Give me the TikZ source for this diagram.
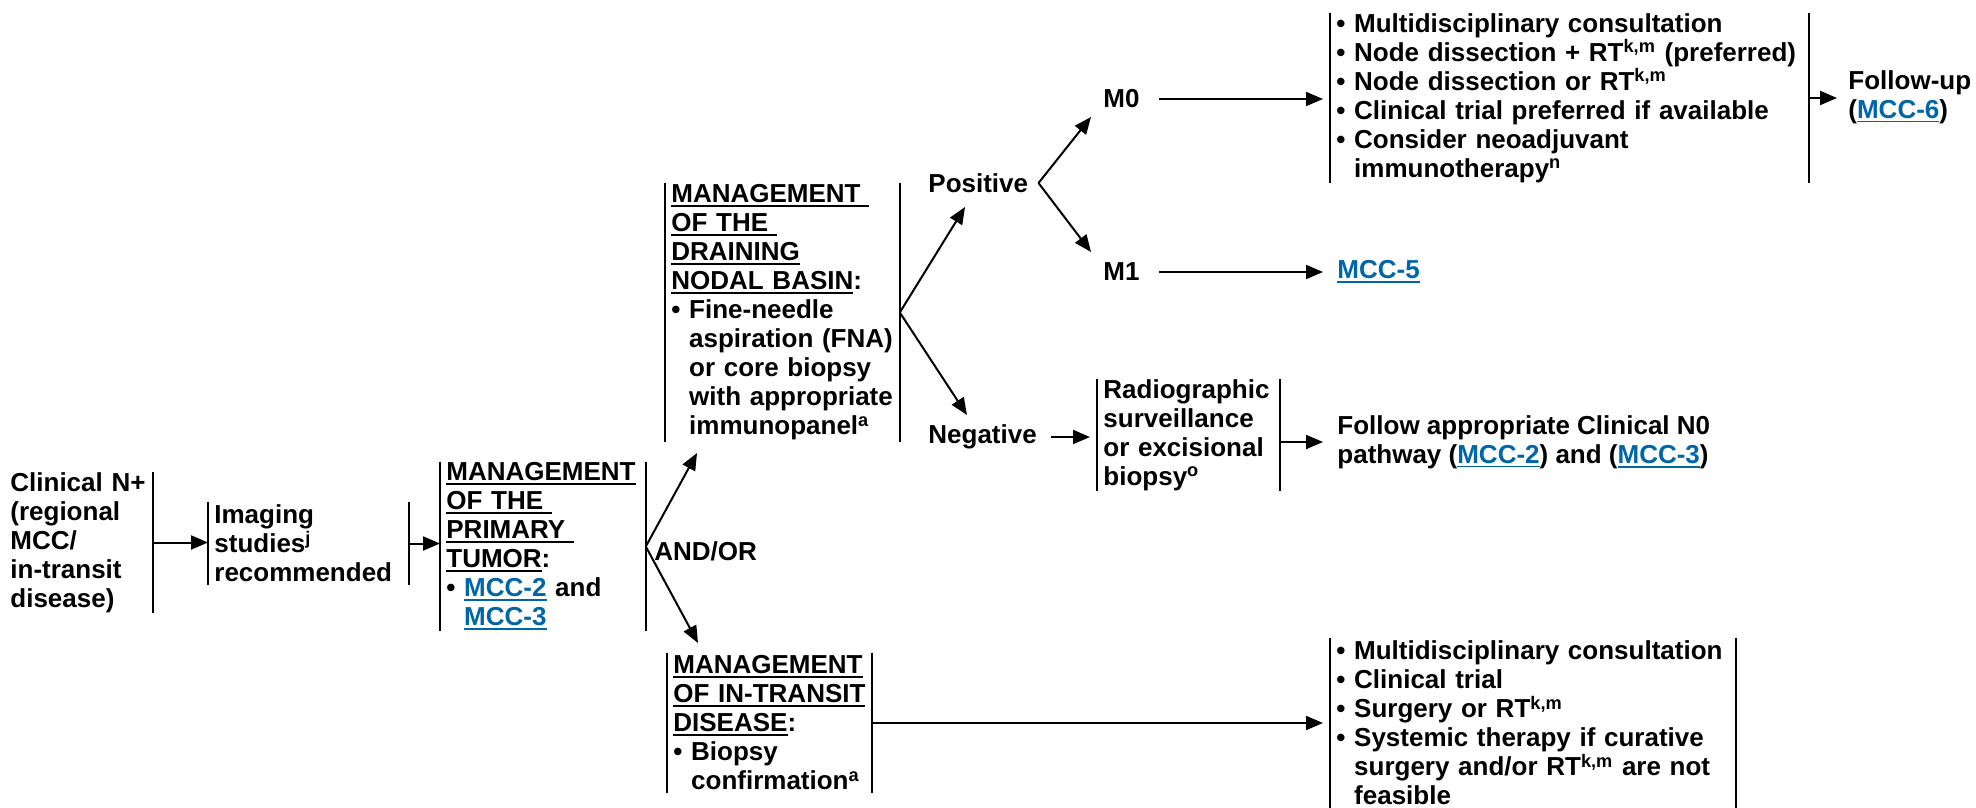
\documentclass[tikz,border=0pt]{standalone}
\usepackage{fontspec}
\setmainfont{Liberation Sans}
\usepackage{xcolor}
\usetikzlibrary{arrows.meta, positioning}
\definecolor{linkblue}{RGB}{0,102,170}
\newcommand{\hd}[1]{\leavevmode\vtop{\hbox{#1}\kern1.1pt\hrule height0.9pt}}
\newcommand{\lnk}[1]{\textcolor{linkblue}{\hd{#1}}}
\newcommand{\bul}{\textbullet\ }
\newcommand{\ind}{\hphantom{\textbullet\ }}
\newcommand{\sups}[1]{\textsuperscript{#1}}
\tikzset{
  bar/.style={line width=1.2pt},
  bracket/.style={
    rectangle, inner xsep=3pt, inner ysep=0pt, anchor=west, align=left,
    append after command={
      (\tikzlastnode.north west) edge[bar] (\tikzlastnode.south west)
      (\tikzlastnode.north east) edge[bar] (\tikzlastnode.south east)}
  },
  rbracket/.style={
    rectangle, inner xsep=3pt, inner ysep=0pt, anchor=west, align=left,
    append after command={
      (\tikzlastnode.north east) edge[bar] (\tikzlastnode.south east)}
  },
  plain/.style={inner sep=0pt, anchor=west, align=left},
  arrow/.style={-{Triangle[length=8.5pt,width=7pt]}, line width=1pt}
}

\begin{document}
\begin{tikzpicture}[x=0.5pt, y=-0.5pt,
  every node/.style={font=\fontsize{13}{14.5}\selectfont\bfseries}
]
\useasboundingbox (0,0) rectangle (1976,808);

% left column
\node[rbracket, text width=68pt, minimum height=70.5pt] (clin) at (4,542.5)
  {Clinical N+\\(regional\\MCC/\\in-transit\\disease)};
\node[bracket, text width=94pt, minimum height=41.5pt] (imag) at (208,543.5)
  {Imaging\\studies\sups{j}\\recommended};
\node[bracket, text width=96.5pt, minimum height=84.5pt] (prim) at (440,546.5)
  {\hd{MANAGEMENT}\\\hd{OF THE }\\\hd{PRIMARY }\\\hd{TUMOR}:\\\bul\lnk{MCC-2} and\\\ind\lnk{MCC-3}};

\draw[arrow] (clin.east) -- (clin.east -| imag.west);
\draw[arrow] (imag.east) -- (imag.east -| prim.west);

% nodal basin and in-transit
\node[bracket, text width=111pt, minimum height=129.5pt] (drain) at (665,312.5)
  {\hd{MANAGEMENT }\\\hd{OF THE }\\\hd{DRAINING}\\\hd{NODAL BASIN}:\\\bul Fine-needle\\\ind aspiration (FNA)\\\ind or core biopsy\\\ind with appropriate\\\ind immunopanel\sups{a}};
\node[bracket, text width=96pt, minimum height=70pt] (trans) at (667,723)
  {\hd{MANAGEMENT}\\\hd{OF IN-TRANSIT}\\\hd{DISEASE}:\\\bul Biopsy\\\ind confirmation\sups{a}};
\node[plain] (andor) at (654,551) {AND/OR};

\coordinate (draintip) at (697,453);
\coordinate (transtip) at (698,643);
\draw[arrow] (prim.east) -- (draintip);
\draw[arrow] (prim.east) -- (transtip);

% positive / negative
\node[plain] (pos) at (928,183) {Positive};
\node[plain] (neg) at (928,437) {Negative};
\coordinate (postip) at (965,207);
\coordinate (negtip) at (967,415);
\draw[arrow] (drain.east) -- (postip);
\draw[arrow] (drain.east) -- (negtip);

\node[plain] (m0) at (1103,99) {M0};
\node[plain] (m1) at (1103,272) {M1};
\coordinate (m0tip) at (1091,117);
\coordinate (m1tip) at (1091,252);
\draw[arrow] ([xshift=5pt]pos.east) -- (m0tip);
\draw[arrow] ([xshift=5pt]pos.east) -- (m1tip);

% right column
\node[bracket, text width=233pt, minimum height=85pt] (nodetx) at (1330,98)
  {\bul Multidisciplinary consultation\\\bul Node dissection + RT\sups{k,m} (preferred)\\\bul Node dissection or RT\sups{k,m}\\\bul Clinical trial preferred if available\\\bul Consider neoadjuvant\\\ind immunotherapy\sups{n}};
\node[plain] (fup) at (1848,97) {Follow-up\\(\lnk{MCC-6})};
\node[plain] (mcc5) at (1337,272) {\lnk{MCC-5}};
\node[bracket, text width=85pt, minimum height=54.5pt] (radio) at (1097,435)
  {Radiographic\\surveillance\\or excisional\\biopsy\sups{o}};
\node[plain] (cn0) at (1337,442) {Follow appropriate Clinical N0\\pathway (\lnk{MCC-2}) and (\lnk{MCC-3})};
\node[bracket, text width=196.5pt, minimum height=85pt] (transtx) at (1330,723)
  {\bul Multidisciplinary consultation\\\bul Clinical trial\\\bul Surgery or RT\sups{k,m}\\\bul Systemic therapy if curative\\\ind surgery and/or RT\sups{k,m} are not\\\ind feasible};

\draw[arrow, shorten >=3.5pt] ([xshift=9.5pt]m0.east) -- (m0.east -| nodetx.west);
\draw[arrow, shorten >=7pt] ([xshift=9.5pt]m1.east) -- (mcc5.west);
\draw[arrow, shorten >=5.5pt] (nodetx.east) -- (nodetx.east -| fup.west);
\draw[arrow, shorten >=3.5pt] ([xshift=7pt]neg.east) -- (neg.east -| radio.west);
\draw[arrow, shorten >=7pt] (cn0.west -| radio.east) -- (cn0.west);
\draw[arrow, shorten >=3.5pt] (trans.east) -- (trans.east -| transtx.west);

\end{tikzpicture}
\end{document}
